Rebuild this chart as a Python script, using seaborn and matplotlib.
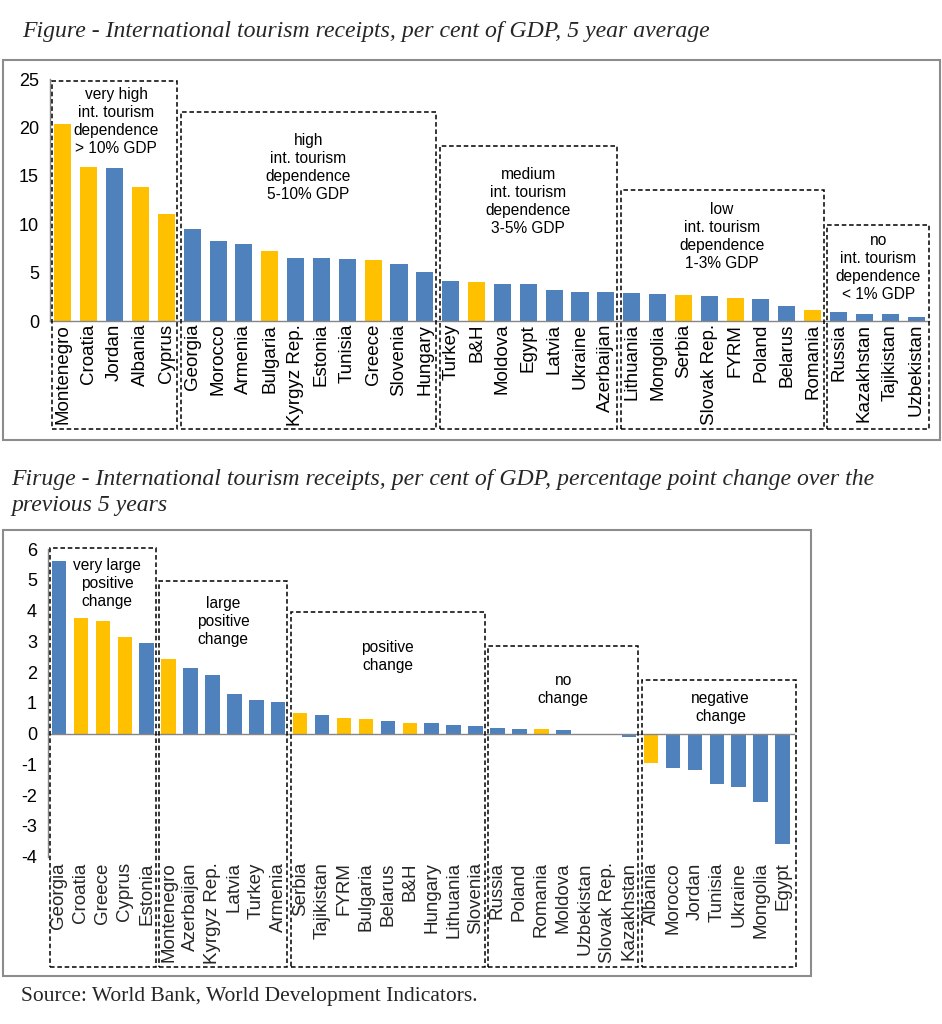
import numpy as np
import pandas as pd
import matplotlib
matplotlib.use("Agg")
import matplotlib.pyplot as plt
import seaborn as sns
from matplotlib.patches import Rectangle
from matplotlib.transforms import blended_transform_factory

# ---------------- data ----------------
avg_countries = ["Montenegro", "Croatia", "Jordan", "Albania", "Cyprus",
                 "Georgia", "Morocco", "Armenia", "Bulgaria", "Kyrgyz Rep.", "Estonia",
                 "Tunisia", "Greece", "Slovenia", "Hungary",
                 "Turkey", "B&H", "Moldova", "Egypt", "Latvia", "Ukraine", "Azerbaijan",
                 "Lithuania", "Mongolia", "Serbia", "Slovak Rep.", "FYRM", "Poland",
                 "Belarus", "Romania",
                 "Russia", "Kazakhstan", "Tajikistan", "Uzbekistan"]
avg_values = [20.4, 15.9, 15.8, 13.9, 11.1,
              9.5, 8.3, 7.95, 7.2, 6.55, 6.55, 6.45, 6.35, 5.9, 5.1,
              4.1, 4.05, 3.85, 3.85, 3.2, 3.05, 2.95,
              2.85, 2.8, 2.65, 2.6, 2.4, 2.3, 1.5, 1.1,
              0.9, 0.75, 0.75, 0.4]
avg_group_sizes = [5, 10, 7, 8, 4]
avg_group_labels = ["very high\nint. tourism\ndependence\n> 10% GDP",
                    "high\nint. tourism\ndependence\n5-10% GDP",
                    "medium\nint. tourism\ndependence\n3-5% GDP",
                    "low\nint. tourism\ndependence\n1-3% GDP",
                    "no\nint. tourism\ndependence\n< 1% GDP"]

chg_countries = ["Georgia", "Croatia", "Greece", "Cyprus", "Estonia",
                 "Montenegro", "Azerbaijan", "Kyrgyz Rep.", "Latvia", "Turkey", "Armenia",
                 "Serbia", "Tajikistan", "FYRM", "Bulgaria", "Belarus", "B&H", "Hungary",
                 "Lithuania", "Slovenia",
                 "Russia", "Poland", "Romania", "Moldova", "Uzbekistan", "Slovak Rep.",
                 "Kazakhstan",
                 "Albania", "Morocco", "Jordan", "Tunisia", "Ukraine", "Mongolia", "Egypt"]
chg_values = [5.6, 3.75, 3.67, 3.15, 2.96,
              2.42, 2.13, 1.91, 1.29, 1.08, 1.04,
              0.67, 0.6, 0.52, 0.47, 0.42, 0.34, 0.34, 0.29, 0.26,
              0.19, 0.16, 0.14, 0.11, 0.0, 0.0, -0.12,
              -0.95, -1.12, -1.17, -1.64, -1.74, -2.23, -3.59]
chg_group_sizes = [5, 6, 9, 7, 7]
chg_group_labels = ["very large\npositive\nchange", "large\npositive\nchange",
                    "positive\nchange", "no\nchange", "negative\nchange"]

see_countries = ["Montenegro", "Croatia", "Albania", "Cyprus", "Bulgaria", "Greece",
                 "B&H", "Serbia", "FYRM", "Romania"]

title_top = "Figure - International tourism receipts, per cent of GDP, 5 year average"
title_bot_1 = "Firuge - International tourism receipts, per cent of GDP, percentage point change over the"
title_bot_2 = "previous 5 years"
source_text = "Source: World Bank, World Development Indicators."

# ---------------- style ----------------
BLUE = "#4F81BD"
YELLOW = "#FFC000"
GRAY = "#868686"
W, H = 942, 1024

sns.set_style("white")
plt.rcParams["font.family"] = ["Liberation Sans", "DejaVu Sans"]

fig = plt.figure(figsize=(W / 100, H / 100), dpi=100)


def fx(px):
    return px / W


def fy(py):
    return 1 - py / H


def draw_bars(ax, names, values):
    df = pd.DataFrame({"country": names, "value": values})
    pal = {c: (YELLOW if c in see_countries else BLUE) for c in names}
    sns.barplot(data=df, x="country", y="value", hue="country", palette=pal,
                order=names, hue_order=names, dodge=False, legend=False,
                width=0.66, saturation=1, linewidth=0, ax=ax)
    ax.set_xlabel("")
    ax.set_ylabel("")


def style_axes(ax, n):
    for s in ["top", "right"]:
        ax.spines[s].set_visible(False)
    for s in ["left", "bottom"]:
        ax.spines[s].set_color(GRAY)
        ax.spines[s].set_linewidth(1.0)
    ax.set_xlim(-0.5, n - 0.5)
    ax.set_xticks(np.arange(-0.5, n, 1.0), minor=True)
    ax.tick_params(axis="x", which="minor", length=4, color=GRAY, width=1, direction="out")
    ax.tick_params(axis="y", which="major", length=5, color=GRAY, width=1,
                   labelsize=13, pad=3, labelcolor="black")


def draw_boxes(ax, sizes, labels, tops, bottom, text_y, text_dx, right_last):
    start = 0
    for k, (sz, lab) in enumerate(zip(sizes, labels)):
        end = start + sz - 1
        left = start - 0.43
        right = end + 0.42 if k < len(sizes) - 1 else right_last
        rect = Rectangle((left, bottom), right - left, tops[k] - bottom,
                         fill=False, edgecolor="black", linewidth=1.1,
                         linestyle=(0, (3, 1.8)), clip_on=False, zorder=5)
        ax.add_patch(rect)
        ax.text((left + right) / 2 + text_dx[k], text_y[k], lab, ha="center", va="center",
                fontsize=11.2, linespacing=1.25, color="black", zorder=6)
        start += sz


# ---------------- top chart ----------------
ax1 = fig.add_axes([fx(50), fy(321), fx(929) - fx(50), fy(79.3) - fy(321)])
draw_bars(ax1, avg_countries, avg_values)
style_axes(ax1, len(avg_countries))
ax1.set_ylim(0, 25)
ax1.set_yticks([0, 5, 10, 15, 20, 25])
ax1.set_xticks(range(len(avg_countries)))
ax1.set_xticklabels(avg_countries, rotation=90, fontsize=13.5, va="top")
ax1.tick_params(axis="x", which="major", length=0, pad=2, labelcolor="black")
draw_boxes(ax1, avg_group_sizes, avg_group_labels,
           tops=[24.85, 21.6, 18.1, 13.5, 9.9], bottom=-11.2,
           text_y=[20.66, 15.9, 12.36, 8.77, 5.56],
           text_dx=[0.07, 0, 0, 0, 0], right_last=33.5)

# ---------------- bottom chart ----------------
ax2 = fig.add_axes([fx(48), fy(856.7), fx(793.5) - fx(48), fy(549) - fy(856.7)])
draw_bars(ax2, chg_countries, chg_values)
style_axes(ax2, len(chg_countries))
ax2.set_ylim(-4, 6)
ax2.set_yticks(range(-4, 7))
ax2.set_yticklabels([str(v) for v in range(-4, 7)])
ax2.spines["bottom"].set_position(("data", 0))
ax2.set_xticks(range(len(chg_countries)))
ax2.tick_params(axis="x", which="major", length=0, labelbottom=False)
trans = blended_transform_factory(ax2.transData, ax2.transAxes)
for i, name in enumerate(chg_countries):
    ax2.text(i, -0.018, name, rotation=90, ha="center", va="top", fontsize=13.5,
             transform=trans, clip_on=False)
draw_boxes(ax2, chg_group_sizes, chg_group_labels,
           tops=[6.03, 4.97, 3.96, 2.84, 1.74], bottom=-7.57,
           text_y=[4.89, 3.66, 2.5, 1.45, 0.85],
           text_dx=[0.2, 0, 0, 0, 0.08], right_last=33.6)

# ---------------- frames and texts ----------------
fig.add_artist(Rectangle((fx(3), fy(440)), fx(940) - fx(3), fy(60) - fy(440),
                         transform=fig.transFigure, fill=False, edgecolor="#8c8c8c",
                         linewidth=1.5))
fig.add_artist(Rectangle((fx(3), fy(976)), fx(811) - fx(3), fy(530) - fy(976),
                         transform=fig.transFigure, fill=False, edgecolor="#8c8c8c",
                         linewidth=1.5))

serif = ["Liberation Serif", "DejaVu Serif"]
fig.text(fx(22), fy(32), title_top, family=serif, style="italic", fontsize=17.1,
         ha="left", va="center")
fig.text(fx(11), fy(480), title_bot_1, family=serif, style="italic", fontsize=17.1,
         ha="left", va="center")
fig.text(fx(11), fy(506), title_bot_2, family=serif, style="italic", fontsize=17.1,
         ha="left", va="center")
fig.text(fx(21), fy(997), source_text, family=serif, fontsize=15.5,
         ha="left", va="center")

fig.savefig("out.png", dpi=100)
